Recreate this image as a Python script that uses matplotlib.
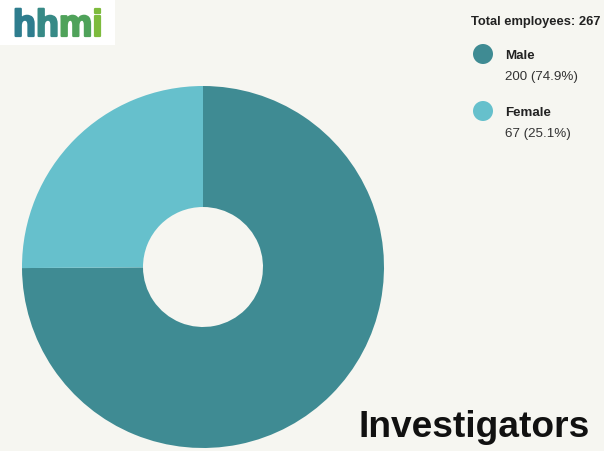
import matplotlib
matplotlib.use("Agg")
import matplotlib.pyplot as plt
import matplotlib.patheffects as pe
from matplotlib.patches import Rectangle, Circle

categories = ["Male", "Female"]
counts = [200, 67]
colors = ["#3f8b93", "#66c0cc"]
title = "Investigators"

W, H = 604, 452
total = sum(counts)

plt.rcParams["font.family"] = ["Liberation Sans", "DejaVu Sans"]
fig = plt.figure(figsize=(W / 100, H / 100), dpi=100)
fig.patch.set_facecolor("#f6f6f1")


def fx(x):
    return x / W


def fy(y):
    return 1 - y / H


# donut
cx, cy, r = 203, 268, 181
ax = fig.add_axes([fx(cx - r), fy(cy + r), 2 * r / W, 2 * r / H])
ax.pie(counts, colors=colors, startangle=90, counterclock=False,
       radius=1, wedgeprops=dict(width=1 - 60 / 181, linewidth=0))
ax.set_xlim(-1, 1)
ax.set_ylim(-1, 1)
ax.set_aspect("equal")
ax.axis("off")

# logo box
fig.patches.append(Rectangle((0, fy(46)), fx(115), 46 / H, transform=fig.transFigure,
                             facecolor="white", edgecolor="none", zorder=1))
renderer = fig.canvas.get_renderer()
logo_cols = ["#2e7d8e", "#378a86", "#4fa25a", "#7dbb3d"]
x = fx(13)
for ch, c in zip("hhmi", logo_cols):
    t = fig.text(x, fy(37), ch, fontsize=27, fontweight="bold", color=c,
                 ha="left", va="baseline", zorder=2,
                 path_effects=[pe.withStroke(linewidth=1.6, foreground=c)])
    bb = t.get_window_extent(renderer)
    x += bb.width / W

# legend
fig.text(fx(471), fy(25), f"Total employees: {total}", fontsize=9.3, fontweight="bold",
         color="#222222", ha="left", va="baseline")
rows = [55, 112]
for cat, n, c, y in zip(categories, counts, colors, rows):
    fig.patches.append(Circle((483 / 100, (H - y) / 100), 10 / 100,
                              transform=fig.dpi_scale_trans,
                              facecolor=c, edgecolor="none"))
    fig.text(fx(505), fy(y + 4), cat, fontsize=9.6, fontweight="bold",
             color="#222222", ha="left", va="baseline")
    fig.text(fx(505), fy(y + 25), f"{n} ({n / total * 100:.1f}%)", fontsize=9.6,
             color="#333333", ha="left", va="baseline")

fig.text(fx(590), fy(437), title, fontsize=26.7, fontweight="bold",
         color="#111111", ha="right", va="baseline")

fig.savefig("out.png", dpi=100, facecolor=fig.get_facecolor())
